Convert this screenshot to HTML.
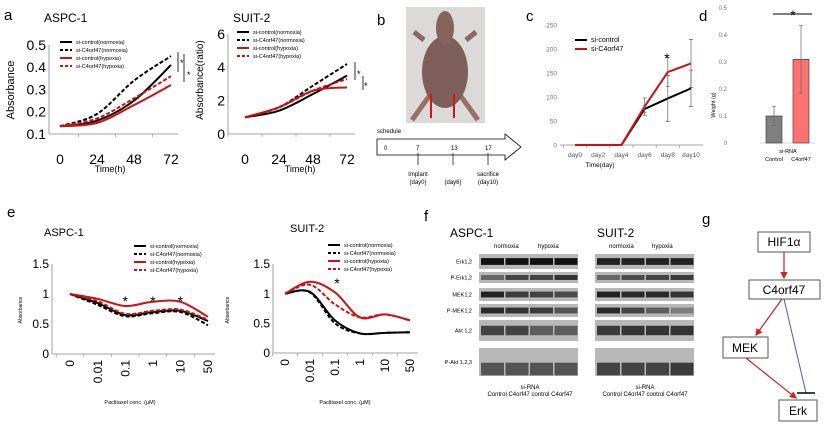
<!DOCTYPE html>
<html><head><meta charset="utf-8"><style>
html,body{margin:0;padding:0;background:#fff;width:824px;height:426px;overflow:hidden}
svg{font-family:"Liberation Sans",Arial,sans-serif}
</style></head><body>
<svg id="fig" width="824" height="426" viewBox="0 0 824 426" xmlns="http://www.w3.org/2000/svg">
<defs>
<marker id="ar" markerWidth="6" markerHeight="6" refX="5" refY="3" orient="auto"><path d="M0,0 L6,3 L0,6z" fill="#d02020"/></marker>
</defs>
<g font-size="15" fill="#000">
<text x="4" y="20">a</text><text x="377" y="25">b</text><text x="526" y="21">c</text><text x="699" y="21">d</text><text x="7" y="217">e</text><text x="424" y="221">f</text><text x="702" y="224">g</text>
</g>
<g>
<rect x="406" y="7" width="79" height="116" fill="#dcdad8"/>
<path d="M412,120 L430,95 M478,120 L460,95" stroke="#9a7066" stroke-width="5"/>
<ellipse cx="445" cy="72" rx="23" ry="36" fill="#7d5e58"/>
<ellipse cx="445" cy="28" rx="9" ry="17" fill="#86645e"/>
<path d="M424,40 L414,32 M466,40 L476,32" stroke="#8a6660" stroke-width="5"/>
<path d="M431,94 L431,118 M454,94 L454,118" stroke="#e01010" stroke-width="2"/>
</g>
<g font-size="6" fill="#000">
<text x="377" y="133">schedule</text>
<path d="M377,139 L505,139 L505,134 L521,147 L505,160 L505,155 L377,155 Z" fill="#fff" stroke="#000" stroke-width="0.8"/>
<text x="384" y="150">0</text><text x="416" y="150">7</text><text x="451" y="150">13</text><text x="485" y="150">17</text>
<path d="M418,165 V153 M453,165 V153 M488,165 V153" stroke="#000" stroke-width="0.7"/>
<text x="418" y="176" text-anchor="middle">Implant</text><text x="418" y="184" text-anchor="middle">(day0)</text>
<text x="453" y="184" text-anchor="middle">(day6)</text>
<text x="488" y="176" text-anchor="middle">sacrifice</text><text x="488" y="184" text-anchor="middle">(day10)</text>
</g>
<g id="charts"></g>
<g id="blots" font-size="6" fill="#000">
<text x="450" y="237" font-size="12">ASPC-1</text><text x="597" y="237" font-size="12">SUIT-2</text>
<text x="494" y="248">normoxia</text><text x="538" y="248">hypoxia</text>
<text x="609" y="248">normoxia</text><text x="652" y="248">hypoxia</text>
<text x="530" y="389" text-anchor="middle">si-RNA</text><text x="530" y="396" text-anchor="middle">Control C4orf47 control C4orf47</text>
<text x="645" y="389" text-anchor="middle">si-RNA</text><text x="645" y="396" text-anchor="middle">Control C4orf47 control C4orf47</text>
</g>
<g font-size="12" fill="#000">
<rect x="758" y="232" width="52" height="20" fill="#fff" stroke="#555"/><text x="784" y="246" text-anchor="middle">HIF1α</text>
<rect x="749" y="280" width="71" height="19" fill="#fff" stroke="#555"/><text x="784" y="294" text-anchor="middle">C4orf47</text>
<rect x="723" y="337" width="45" height="21" fill="#fff" stroke="#555"/><text x="745" y="352" text-anchor="middle">MEK</text>
<rect x="779" y="400" width="38" height="21" fill="#fff" stroke="#555"/><text x="798" y="415" text-anchor="middle">Erk</text>
<line x1="784" y1="252" x2="784" y2="278" stroke="#d02020" stroke-width="1.2" marker-end="url(#ar)"/>
<line x1="782" y1="299" x2="756" y2="335" stroke="#d02020" stroke-width="1.2" marker-end="url(#ar)"/>
<line x1="746" y1="358" x2="796" y2="398" stroke="#d02020" stroke-width="1.2" marker-end="url(#ar)"/>
<line x1="784" y1="299" x2="806" y2="393" stroke="#4060b0" stroke-width="1"/>
<line x1="797" y1="393" x2="815" y2="393" stroke="#000" stroke-width="1.5"/>
</g>
</svg>
<script>
const timeCats=[0,24,48,72];
const aspcCtrlN=[0.135,0.16,0.25,0.41];
const aspcKdN=[0.135,0.19,0.34,0.45];
const aspcCtrlH=[0.135,0.15,0.23,0.32];
const aspcKdH=[0.135,0.17,0.26,0.36];
const aspcTicks=[0.1,0.2,0.3,0.4,0.5];
const suitCtrlN=[1,1.4,2.4,3.5];
const suitKdN=[1,1.6,2.9,4.2];
const suitCtrlH=[1,1.6,2.6,2.8];
const suitKdH=[1,1.6,2.6,3.3];
const suitTicks=[0,2,4,6];
const concCats=["0","0.01","0.1","1","10","50"];
const eAspcCtrlN=[1,0.85,0.65,0.7,0.72,0.55];
const eAspcKdN=[1,0.82,0.63,0.68,0.7,0.48];
const eAspcCtrlH=[1,0.92,0.8,0.87,0.87,0.62];
const eAspcKdH=[1,0.88,0.67,0.72,0.74,0.57];
const eSuitCtrlN=[1,1.03,0.55,0.33,0.34,0.35];
const eSuitKdN=[1,1.02,0.5,0.33,0.34,0.35];
const eSuitCtrlH=[1,1.2,1.02,0.6,0.65,0.55];
const eSuitKdH=[1,1.15,0.82,0.6,0.65,0.55];
const eTicks=[0,0.5,1,1.5];
const dayCats=["day0","day2","day4","day6","day8","day10"];
const volCtrl=[0,0,0,75,97,118];
const volKd=[0,0,0,80,152,170];
const volCtrlErr=[0,0,0,8,48,38];
const volKdErr=[0,0,0,18,30,50];
const volTicks=[0,50,100,150,200,250];
const wCats=["Control","C4orf47"];
const wVals=[0.1,0.31];
const wErr=[0.035,0.125];
const wTicks=[0,0.1,0.2,0.3,0.4,0.5];
const blotRows=["Erk1,2","P-Erk1,2","MEK1,2","P-MEK1,2","Akt 1,2","P-Akt 1,2,3"];
const blotAspc=[[1,1,1,1],[0.5,0.7,0.7,0.8],[0.9,0.75,0.7,0.65],[0.85,0.8,0.75,0.6],[0.7,0.7,0.55,0.55],[0.6,0.6,0.6,0.6]];
const blotSuit=[[0.9,0.9,0.9,0.9],[0.5,0.65,0.7,0.75],[0.9,0.85,0.85,0.8],[0.85,0.7,0.55,0.35],[0.75,0.8,0.8,0.8],[0.7,0.7,0.7,0.75]];

const NS="http://www.w3.org/2000/svg";
const root=document.getElementById('charts');
function mk(tag,attrs,parent,txt){const e=document.createElementNS(NS,tag);for(const k in attrs)e.setAttribute(k,attrs[k]);if(txt!==undefined)e.textContent=txt;(parent||root).appendChild(e);return e;}
function lin(d0,d1,r0,r1){return v=>r0+(v-d0)*(r1-r0)/(d1-d0);}
function smooth(pts){let d="M"+pts[0][0]+","+pts[0][1];for(let i=0;i<pts.length-1;i++){const p0=pts[i-1]||pts[i],p1=pts[i],p2=pts[i+1],p3=pts[i+2]||p2;const c1x=p1[0]+(p2[0]-p0[0])/6,c1y=p1[1]+(p2[1]-p0[1])/6,c2x=p2[0]-(p3[0]-p1[0])/6,c2y=p2[1]-(p3[1]-p1[1])/6;d+=" C"+c1x+","+c1y+" "+c2x+","+c2y+" "+p2[0]+","+p2[1];}return d;}

function lineChart(cfg){
  const g=mk('g',{});
  
  
  const y=lin(cfg.ymin,cfg.ymax,cfg.y0,cfg.y1);
  mk('line',{x1:cfg.ax,y1:cfg.y1,x2:cfg.ax,y2:cfg.y0,stroke:cfg.noY?'none':'#888','stroke-width':0.8},g);
  mk('line',{x1:cfg.ax,y1:cfg.y0,x2:cfg.axEnd,y2:cfg.y0,stroke:'#888','stroke-width':0.8},g);
  cfg.ticks.forEach(t=>{const tl=mk('text',{x:cfg.ax-3,y:y(t)+cfg.tfs*0.35,'text-anchor':'end','font-size':cfg.tfs,fill:cfg.tcol||'#000'},g,String(t));
    
    });
  cfg.cats.forEach((c,i)=>{const x=cfg.xs(i);
    if(cfg.rot){const tl=mk('text',{x:0,y:0,'font-size':cfg.xfs,'text-anchor':'end',transform:`translate(${x+cfg.xfs*0.35},${cfg.y0+6}) rotate(-90)`},g,String(c));
      
      }
    else{const tl=mk('text',{x:x,y:cfg.y0+cfg.xoff,'text-anchor':'middle','font-size':cfg.xfs,fill:cfg.xcol||'#000'},g,String(c));
      
      }
    mk('line',{x1:x-(cfg.xs(1)-cfg.xs(0))/2,y1:cfg.y0,x2:x-(cfg.xs(1)-cfg.xs(0))/2,y2:cfg.y0+3,stroke:'#888','stroke-width':0.6},g);});
  cfg.series.forEach(s=>{const pts=s.v.map((v,i)=>[cfg.xs(i),y(v)]);
    const p=mk('path',{d:cfg.straight?("M"+pts.map(p=>p.join(',')).join(' L')):smooth(pts),fill:'none',stroke:s.c,'stroke-width':s.w||2,'stroke-dasharray':s.dash?'4,2':'none'},g);
    
    
    if(s.err)s.v.forEach((v,i)=>{if(s.err[i]){const x=cfg.xs(i);mk('path',{d:`M${x},${y(v+s.err[i])} V${y(v-s.err[i])} M${x-2},${y(v+s.err[i])} h4 M${x-2},${y(v-s.err[i])} h4`,stroke:s.ec||'#666','stroke-width':0.7,fill:'none'},g);}});
  });
  (cfg.legend||[]).forEach((L,i)=>{const ly=cfg.ly+i*cfg.lh;
    mk('line',{x1:cfg.lx,y1:ly,x2:cfg.lx+12,y2:ly,stroke:L.c,'stroke-width':2,'stroke-dasharray':L.dash?'3,2':'none'},g);
    const t=mk('text',{x:cfg.lx+16,y:ly+2,'font-size':cfg.lfs},g,L.t);
    
    });
  return {g,y};
}
const L4=[{t:'si-control(normoxia)',c:'#000'},{t:'si-C4orf47(normoxia)',c:'#000',dash:1},{t:'si-control(hypoxia)',c:'#d01010'},{t:'si-C4orf47(hypoxia)',c:'#d01010',dash:1}];

const tA=lin(0,72,60,171);
let A=lineChart({name:'chart-a-aspc1',ax:49,axEnd:178,y0:134,y1:45,ymin:0.1,ymax:0.5,ticks:aspcTicks,tfs:14,cats:timeCats,xs:i=>tA(timeCats[i]),xfs:14,xoff:30,
 series:[{v:aspcCtrlN,c:'#000',n:'line-ctrl-normoxia'},{v:aspcKdN,c:'#000',dash:1,n:'line-kd-normoxia'},{v:aspcCtrlH,c:'#d01010',n:'line-ctrl-hypoxia'},{v:aspcKdH,c:'#d01010',dash:1,n:'line-kd-hypoxia'}],
 legend:L4,lx:60,ly:42,lh:8,lfs:5.5});
mk('text',{x:44,y:22,'font-size':12},A.g,'ASPC-1');
mk('text',{x:0,y:0,'font-size':11,'text-anchor':'middle',transform:'translate(14,90) rotate(-90)'},A.g,'Absorbance');
mk('text',{x:110,y:172,'font-size':9,'text-anchor':'middle'},A.g,'Time(h)');
mk('path',{d:'M178,52 V72 M184,54 V82',stroke:'#000','stroke-width':0.8},A.g);
mk('text',{x:180,y:66,'font-size':9},A.g,'*');mk('text',{x:187,y:78,'font-size':9},A.g,'*');

const tS=lin(0,72,245,347);
let S=lineChart({name:'chart-a-suit2',ax:228,axEnd:355,y0:134,y1:34,ymin:0,ymax:6,ticks:suitTicks,tfs:14,cats:timeCats,xs:i=>tS(timeCats[i]),xfs:14,xoff:30,
 series:[{v:suitCtrlN,c:'#000',n:'line-ctrl-normoxia'},{v:suitKdN,c:'#000',dash:1,n:'line-kd-normoxia'},{v:suitCtrlH,c:'#d01010',n:'line-ctrl-hypoxia'},{v:suitKdH,c:'#d01010',dash:1,n:'line-kd-hypoxia'}],
 legend:L4,lx:237,ly:32,lh:8,lfs:5.5});
mk('text',{x:233,y:22,'font-size':12},S.g,'SUIT-2');
mk('text',{x:0,y:0,'font-size':10,'text-anchor':'middle',transform:'translate(203,80) rotate(-90)'},S.g,'Absorbance(ratio)');
mk('text',{x:300,y:172,'font-size':9,'text-anchor':'middle'},S.g,'Time(h)');
mk('path',{d:'M355,62 V80 M363,76 V90',stroke:'#000','stroke-width':0.8},S.g);
mk('text',{x:357,y:77,'font-size':9},S.g,'*');mk('text',{x:364,y:89,'font-size':9},S.g,'*');

let C=lineChart({name:'chart-c-tumor-volume',ax:560,axEnd:703,y0:145,y1:25,ymin:0,ymax:250,ticks:volTicks,tfs:6.5,tcol:'#777',noY:1,cats:dayCats,xs:i=>575+i*23.2,xfs:6.5,xoff:12,xcol:'#555',straight:1,
 series:[{v:volCtrl,c:'#000',err:volCtrlErr,n:'line-si-control'},{v:volKd,c:'#d01010',err:volKdErr,n:'line-si-c4orf47'}],
 legend:[{t:'si-control',c:'#000'},{t:'si-C4orf47',c:'#d01010'}],lx:575,ly:40,lh:9,lfs:7});
mk('text',{x:600,y:167,'font-size':6.5,'text-anchor':'middle'},C.g,'Time(day)');
mk('text',{x:667,y:63,'font-size':14,'text-anchor':'middle'},C.g,'*');

const dg=mk('g',{});


const wy=lin(0,0.5,143,8);
wTicks.forEach(t=>{mk('text',{x:727,y:wy(t)+2,'font-size':6,fill:'#777','text-anchor':'end'},dg,String(t));});
mk('line',{x1:760,y1:143,x2:815,y2:143,stroke:'#aaa','stroke-width':0.6},dg);
const wCols=['#808080','#ff7272'];
wVals.forEach((v,i)=>{const x=766+i*27;const r=mk('rect',{x:x,y:wy(v),width:16,height:143-wy(v),fill:wCols[i],stroke:'#333','stroke-width':0.6},dg);
 
 
 mk('path',{d:`M${x+8},${wy(v+wErr[i])} V${wy(v-wErr[i])} M${x+6},${wy(v+wErr[i])} h4 M${x+6},${wy(v-wErr[i])} h4`,stroke:'#666','stroke-width':0.7},dg);
 mk('text',{x:x+8,y:161,'font-size':5.5,'text-anchor':'middle'},dg,wCats[i]);});
mk('text',{x:788,y:153,'font-size':5.5,'text-anchor':'middle'},dg,'si-RNA');
mk('text',{x:0,y:0,'font-size':5.5,'text-anchor':'middle',transform:'translate(715,105) rotate(-90)'},dg,'Weight (g)');
mk('line',{x1:773,y1:14,x2:812,y2:14,stroke:'#000','stroke-width':1},dg);
mk('text',{x:793,y:20,'font-size':14,'text-anchor':'middle'},dg,'*');

let EA=lineChart({name:'chart-e-aspc1',ax:52,axEnd:215,y0:354,y1:264,ymin:0,ymax:1.5,ticks:eTicks,tfs:12,cats:concCats,xs:i=>70+i*27.6,xfs:12,rot:1,
 series:[{v:eAspcCtrlN,c:'#000',n:'line-ctrl-normoxia'},{v:eAspcKdN,c:'#000',dash:1,n:'line-kd-normoxia'},{v:eAspcCtrlH,c:'#d01010',n:'line-ctrl-hypoxia'},{v:eAspcKdH,c:'#d01010',dash:1,n:'line-kd-hypoxia'}],
 legend:L4,lx:134,ly:246,lh:8,lfs:5.5});
mk('text',{x:44,y:236,'font-size':11},EA.g,'ASPC-1');
mk('text',{x:0,y:0,'font-size':5,'text-anchor':'middle',transform:'translate(22,310) rotate(-90)'},EA.g,'Absorbance');
mk('text',{x:130,y:404,'font-size':5.5,'text-anchor':'middle'},EA.g,'Paclitaxel  conc.  (μM)');
[2,3,4].forEach(i=>mk('text',{x:70+i*27.6,y:306,'font-size':14,'text-anchor':'middle'},EA.g,'*'));
let ES=lineChart({name:'chart-e-suit2',ax:273,axEnd:418,y0:353,y1:264,ymin:0,ymax:1.5,ticks:eTicks,tfs:12,cats:concCats,xs:i=>285+i*25,xfs:12,rot:1,
 series:[{v:eSuitCtrlN,c:'#000',n:'line-ctrl-normoxia'},{v:eSuitKdN,c:'#000',dash:1,n:'line-kd-normoxia'},{v:eSuitCtrlH,c:'#d01010',n:'line-ctrl-hypoxia'},{v:eSuitKdH,c:'#d01010',dash:1,n:'line-kd-hypoxia'}],
 legend:L4,lx:328,ly:245,lh:8,lfs:5.5});
mk('text',{x:290,y:232,'font-size':11},ES.g,'SUIT-2');
mk('text',{x:0,y:0,'font-size':5,'text-anchor':'middle',transform:'translate(229,310) rotate(-90)'},ES.g,'Absorbance');
mk('text',{x:345,y:404,'font-size':5.5,'text-anchor':'middle'},ES.g,'Paclitaxel  conc.  (μM)');
mk('text',{x:337,y:288,'font-size':14,'text-anchor':'middle'},ES.g,'*');

const bg=document.getElementById('blots');
const rowY=[[254,15],[272,11],[288,13],[304,13],[320,21],[348,28]];
blotRows.forEach((r,i)=>{const [yy,h]=rowY[i];
 mk('text',{x:472,y:yy+h/2+2,'font-size':5.5,'text-anchor':'end'},bg,r);
 [[479,blotAspc],[595,blotSuit]].forEach(([x0,data])=>{
  mk('rect',{x:x0,y:yy,width:99,height:h,fill:'#b8b8b8'},bg);
  data[i].forEach((v,j)=>{const bh=Math.max(3,h*0.45);
   const b=mk('rect',{x:x0+2+j*24.5,y:yy+h/2-bh/2+(i===5?h*0.25:0),width:23,height:bh,fill:'#111','fill-opacity':v},bg);
   
   });
 });});
</script>
</body></html>
